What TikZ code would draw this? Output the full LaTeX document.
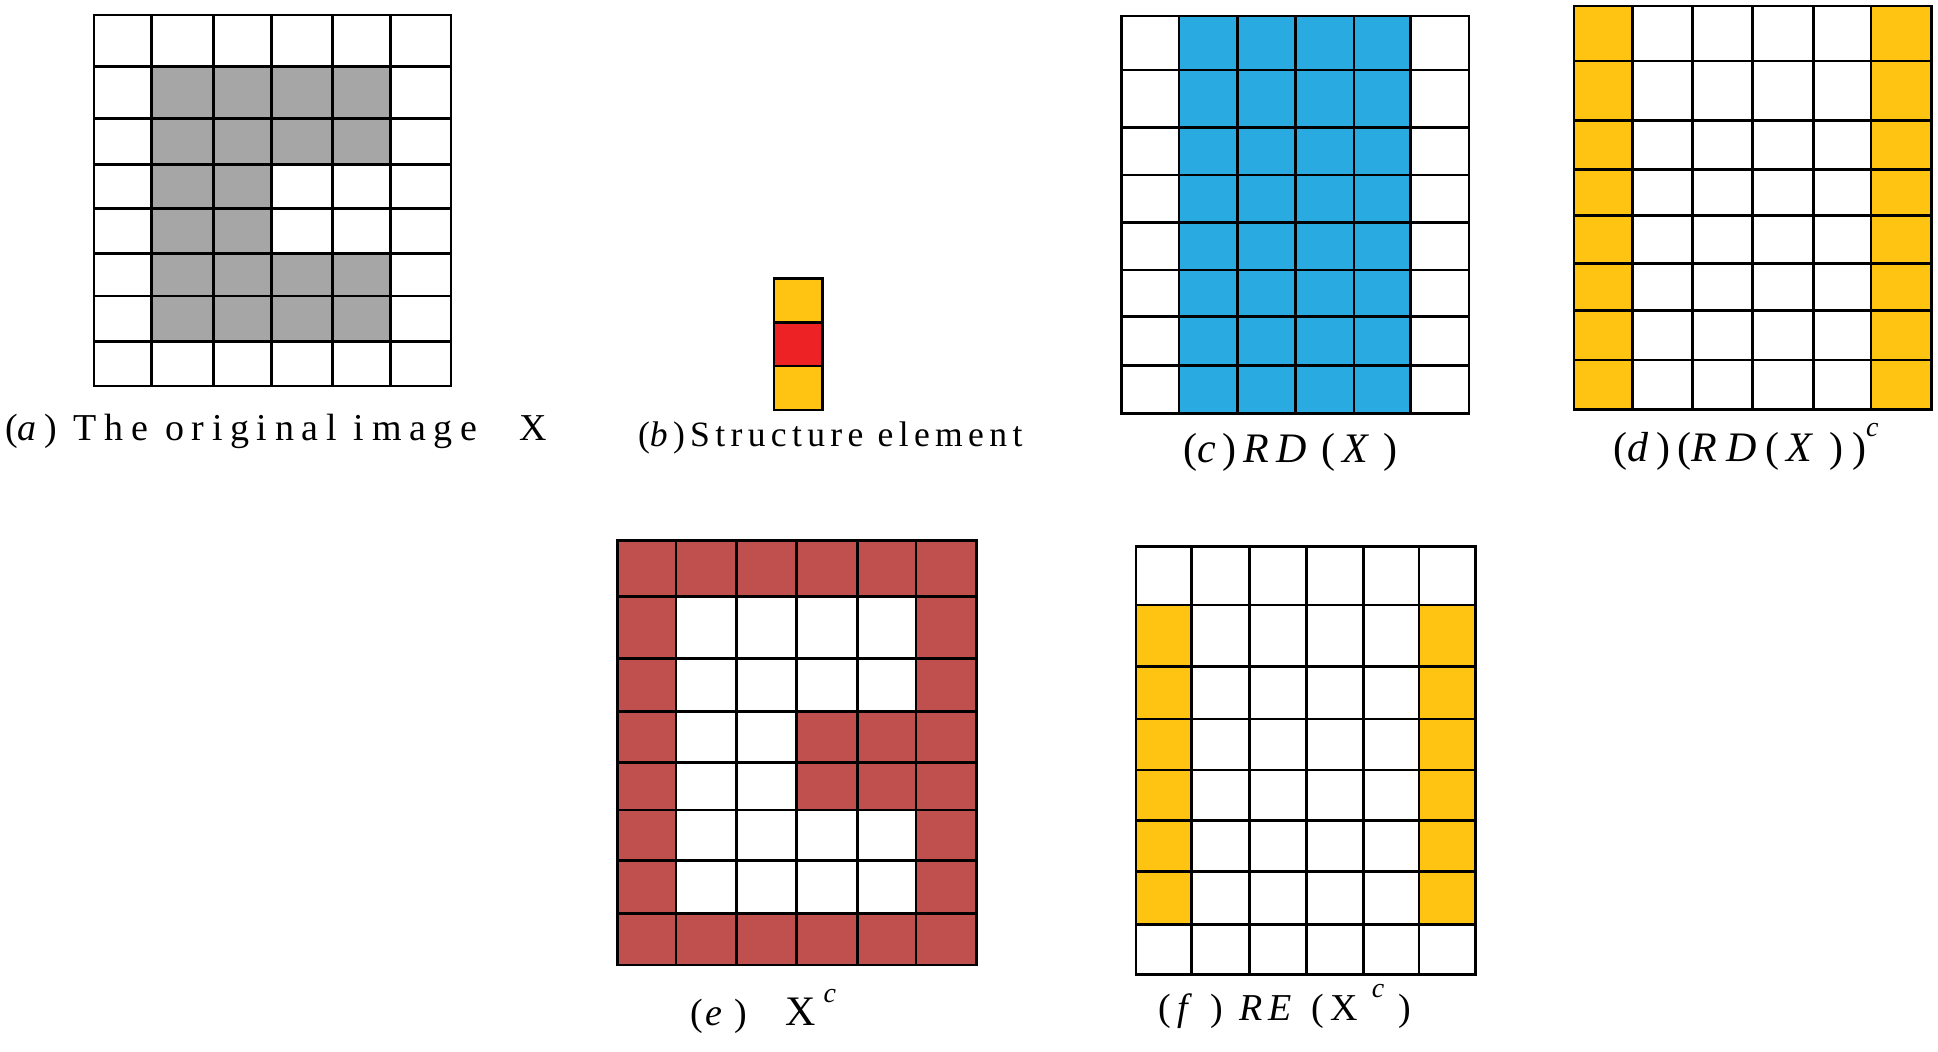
\documentclass[tikz,border=0pt]{standalone}
\usepackage{fontspec}
\setmainfont{Liberation Serif}
\definecolor{cellgray}{HTML}{A6A6A6}
\definecolor{cellblue}{HTML}{29ABE2}
\definecolor{cellyellow}{HTML}{FFC312}
\definecolor{cellred}{HTML}{ED2224}
\definecolor{cellbrick}{HTML}{C0504D}
\newcommand{\mygrid}[6]{%
  \foreach \xx in {#1} \draw[gridline] (\xx,#5) -- (\xx,#6);
  \foreach \yy in {#2} \draw[gridline] (#3,\yy) -- (#4,\yy);}
\newcommand{\supc}{\raisebox{0.6em}{\fontsize{14pt}{16pt}\selectfont\textit{c}}}
\tikzset{
  gridline/.style={line width=1.3pt, line cap=rect, black},
  caplabel/.style={anchor=base west, inner sep=0pt, outer sep=0pt},
}
\begin{document}
\begin{tikzpicture}[x=0.5pt, y=-0.5pt]
\useasboundingbox (0,0) rectangle (1938,1052);
% ---------- (a) original image ----------
\fill[cellgray] (151.7,66.7) rectangle (390.7,164.3);
\fill[cellgray] (151.7,164.3) rectangle (271.7,253.3);
\fill[cellgray] (151.7,253.3) rectangle (390.7,341.7);
\mygrid{94,151.7,213.3,271.7,332.3,390.7,451}{15,66.7,118.3,164.3,208.3,253.3,296,341.7,386}{94}{451}{15}{386}
\node[caplabel] (la) at (5,441) {\fontsize{19pt}{22pt}\selectfont\addfontfeature{LetterSpace=20}(\textit{a}) The original image\hspace{21pt}X};
% ---------- (b) structure element ----------
\fill[cellyellow] (774,278.3) rectangle (822.7,322.3);
\fill[cellred] (774,322.3) rectangle (822.7,366);
\fill[cellyellow] (774,366) rectangle (822.7,410);
\mygrid{774,822.7}{278.3,322.3,366,410}{774}{822.7}{278.3}{410}
\node[caplabel] (lb) at (638,447) {\fontsize{17.8pt}{20pt}\selectfont\addfontfeature{LetterSpace=15}(\textit{b})Structure element};
% ---------- (c) RD(X) ----------
\fill[cellblue] (1179,16) rectangle (1410.7,413.3);
\mygrid{1121.7,1179,1237.3,1295.7,1354,1410.7,1469}{16,70,127.3,175,222.3,270,316.7,365.7,413.3}{1121.7}{1469}{16}{413.3}
\node[caplabel] (lc) at (1183,463) {\fontsize{21pt}{24pt}\selectfont\addfontfeature{LetterSpace=17}(\textit{c})\,\textit{RD}\,(\,\textit{X}\,)};
% ---------- (d) (RD(X))^c ----------
\fill[cellyellow] (1574,6) rectangle (1632.3,409.3);
\fill[cellyellow] (1871,6) rectangle (1931.7,409.3);
\mygrid{1574,1632.3,1692.7,1752.7,1813.3,1871,1931.7}{6,61,120.7,169.3,215.7,263.3,310.7,360,409.3}{1574}{1931.7}{6}{409.3}
\node[caplabel] (ld) at (1613,462) {\fontsize{21pt}{24pt}\selectfont\addfontfeature{LetterSpace=21}(\textit{d})\,(\textit{RD}(\,\textit{X}\,))\supc};
% ---------- (e) X^c ----------
\fill[cellbrick] (617.3,540.7) rectangle (976.7,965);
\fill[white] (676,596.7) rectangle (916,711.7);
\fill[white] (676,711.7) rectangle (796.7,810);
\fill[white] (676,810) rectangle (916,913.3);
\mygrid{617.3,676,736.7,796.7,857.3,916,976.7}{540.7,596.7,658.3,711.7,762.3,810,860.7,913.3,965}{617.3}{976.7}{540.7}{965}
\node[caplabel] (le) at (690,1025) {\fontsize{19pt}{22pt}\selectfont(\hspace{1.5pt}\textit{e}\hspace{6pt})\hspace{19pt}{\fontsize{21pt}{22pt}\selectfont X}\hspace{4pt}\supc};
% ---------- (f) RE(X^c) ----------
\fill[cellyellow] (1136,605) rectangle (1191.7,924.3);
\fill[cellyellow] (1419,605) rectangle (1475.7,924.3);
\mygrid{1136,1191.7,1249.3,1306.7,1363.3,1419,1475.7}{546.7,605,666.7,719,770,820.7,871.7,924.3,974.3}{1136}{1475.7}{546.7}{974.3}
\node[caplabel] (lf) at (1158,1020) {\fontsize{19pt}{22pt}\selectfont(\hspace{3.5pt}\textit{f}\hspace{9pt})\hspace{8pt}\textit{R}\hspace{3pt}\textit{E}\hspace{10pt}(\hspace{3pt}X\hspace{7pt}\supc\hspace{7pt})};
\end{tikzpicture}
\end{document}
